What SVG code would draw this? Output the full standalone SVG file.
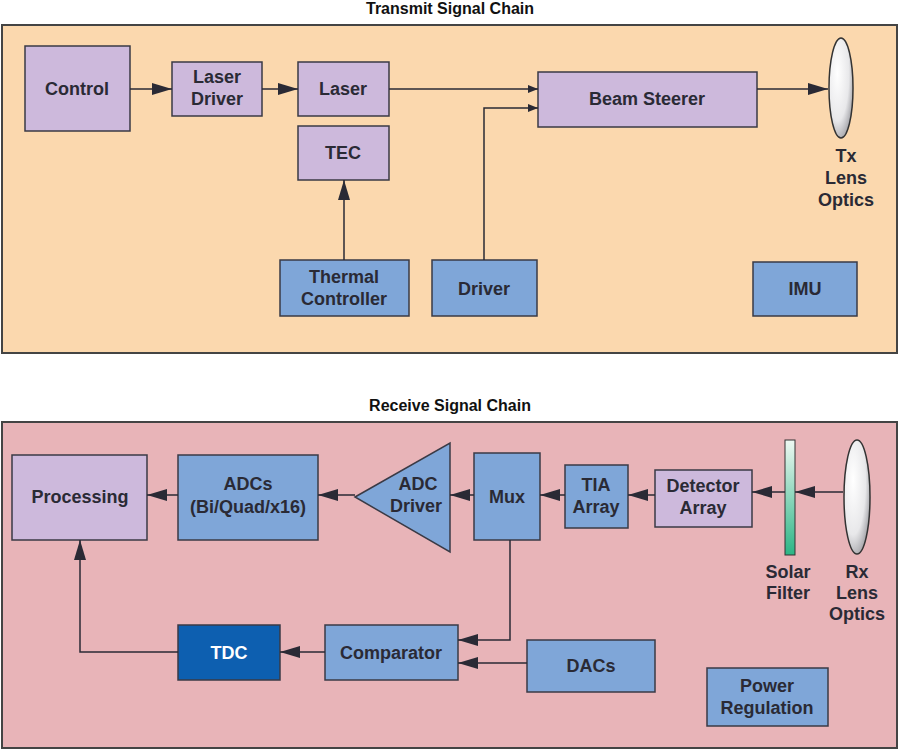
<svg xmlns="http://www.w3.org/2000/svg" width="900" height="752" viewBox="0 0 900 752">
<defs>
<marker id="a" markerWidth="10" markerHeight="8" refX="10" refY="4" orient="auto" markerUnits="userSpaceOnUse"><path d="M0,0L10,4L0,8z" fill="#2a2a35"/></marker>
<marker id="b" markerWidth="20" markerHeight="12" refX="20" refY="6" orient="auto" markerUnits="userSpaceOnUse"><path d="M0,0L20,6L0,12z" fill="#2a2a35"/></marker>
<linearGradient id="sf" x1="0" y1="0" x2="0" y2="1"><stop offset="0" stop-color="#eef8f2"/><stop offset="1" stop-color="#2bb585"/></linearGradient>
<radialGradient id="ln" cx="0.35" cy="0.35" r="0.8"><stop offset="0" stop-color="#fff"/><stop offset="0.6" stop-color="#e8e8ea"/><stop offset="1" stop-color="#8a8a90"/></radialGradient>
</defs>
<style>
.p{fill:#cdb9dc;stroke:#3a3a45;stroke-width:1.5}
.u{fill:#7fa6d8;stroke:#3a3a45;stroke-width:1.5}
.t{font-family:"Liberation Sans",Arial,sans-serif;font-size:18px;font-weight:bold;fill:#2a2a35;text-anchor:middle}
.h{font-family:"Liberation Sans",Arial,sans-serif;font-size:16px;font-weight:bold;fill:#111;text-anchor:middle}
.c{fill:none;stroke:#2a2a35;stroke-width:1.5;marker-end:url(#b)}
</style>
<rect width="900" height="752" fill="#fff"/>
<text class="h" x="450" y="14">Transmit Signal Chain</text>
<rect x="2" y="25" width="895" height="328" fill="#fbd8ae" stroke="#444" stroke-width="2"/>
<text class="h" x="450" y="411">Receive Signal Chain</text>
<rect x="2" y="422" width="895" height="326" fill="#e8b4b8" stroke="#444" stroke-width="2"/>
<g id="control"><rect class="p" x="25" y="46" width="105" height="85"/><text class="t" x="77" y="95">Control</text></g>
<g id="laserdriver"><rect class="p" x="172" y="62" width="90" height="54"/><text class="t" x="217" y="83">Laser</text><text class="t" x="217" y="105">Driver</text></g>
<g id="laser"><rect class="p" x="298" y="62" width="91" height="54"/><text class="t" x="343" y="95">Laser</text></g>
<g id="tec"><rect class="p" x="298" y="126" width="91" height="54"/><text class="t" x="343" y="159">TEC</text></g>
<g id="beamsteerer"><rect class="p" x="538" y="72" width="219" height="55"/><text class="t" x="647" y="105">Beam Steerer</text></g>
<g id="thermal"><rect class="u" x="280" y="260" width="129" height="56"/><text class="t" x="344" y="283">Thermal</text><text class="t" x="344" y="305">Controller</text></g>
<g id="driver"><rect class="u" x="432" y="260" width="105" height="56"/><text class="t" x="484" y="295">Driver</text></g>
<g id="imu"><rect class="u" x="753" y="262" width="104" height="54"/><text class="t" x="805" y="295">IMU</text></g>
<g id="txlens"><ellipse cx="841" cy="88" rx="12" ry="50" fill="url(#ln)" stroke="#333" stroke-width="1.5"/><text class="t" x="846" y="162">Tx</text><text class="t" x="846" y="184">Lens</text><text class="t" x="846" y="206">Optics</text></g>
<g id="processing"><rect class="p" x="12" y="455" width="135" height="85"/><text class="t" x="80" y="503">Processing</text></g>
<g id="adcs"><rect class="u" x="178" y="455" width="140" height="85"/><text class="t" x="248" y="490">ADCs</text><text class="t" x="248" y="513">(Bi/Quad/x16)</text></g>
<g id="adcdriver"><path class="u" d="M355,497L450,443L450,552z"/><text class="t" x="418" y="490">ADC</text><text class="t" x="416" y="512">Driver</text></g>
<g id="mux"><rect class="u" x="474" y="453" width="66" height="87"/><text class="t" x="507" y="503">Mux</text></g>
<g id="tia"><rect class="u" x="565" y="465" width="63" height="63"/><text class="t" x="596" y="491">TIA</text><text class="t" x="596" y="513">Array</text></g>
<g id="detector"><rect class="p" x="655" y="470" width="97" height="57"/><text class="t" x="703" y="492">Detector</text><text class="t" x="703" y="514">Array</text></g>
<g id="solarfilter"><rect x="785" y="440" width="10" height="115" fill="url(#sf)" stroke="#333" stroke-width="1"/><text class="t" x="788" y="578">Solar</text><text class="t" x="788" y="599">Filter</text></g>
<g id="rxlens"><ellipse cx="857" cy="497" rx="13" ry="57" fill="url(#ln)" stroke="#333" stroke-width="1.5"/><text class="t" x="857" y="578">Rx</text><text class="t" x="857" y="599">Lens</text><text class="t" x="857" y="620">Optics</text></g>
<g id="tdc"><rect x="178" y="625" width="102" height="55" fill="#0d5fb0" stroke="#3a3a45" stroke-width="1.5"/><text class="t" x="229" y="659" style="fill:#fff">TDC</text></g>
<g id="comparator"><rect class="u" x="325" y="625" width="133" height="55"/><text class="t" x="391" y="659">Comparator</text></g>
<g id="dacs"><rect class="u" x="527" y="640" width="128" height="52"/><text class="t" x="591" y="672">DACs</text></g>
<g id="power"><rect class="u" x="707" y="668" width="121" height="58"/><text class="t" x="767" y="692">Power</text><text class="t" x="767" y="714">Regulation</text></g>
<g id="connectors">
<path class="c" d="M130,89H172"/>
<path class="c" d="M262,89H298"/>
<path class="c" d="M389,89H538" style="marker-end:url(#a)"/>
<path class="c" d="M484,260V108H538" style="marker-end:url(#a)"/>
<path class="c" d="M344,260V180"/>
<path class="c" d="M757,89H828"/>
<path class="c" d="M843,492H795"/>
<path class="c" d="M785,492H752"/>
<path class="c" d="M655,495H628"/>
<path class="c" d="M565,495H540"/>
<path class="c" d="M474,495H450"/>
<path class="c" d="M355,495H318"/>
<path class="c" d="M178,495H147"/>
<path class="c" d="M510,540V640H458"/>
<path class="c" d="M527,663H458"/>
<path class="c" d="M325,652H280"/>
<path class="c" d="M178,652H80V540"/>
</g>
</svg>
